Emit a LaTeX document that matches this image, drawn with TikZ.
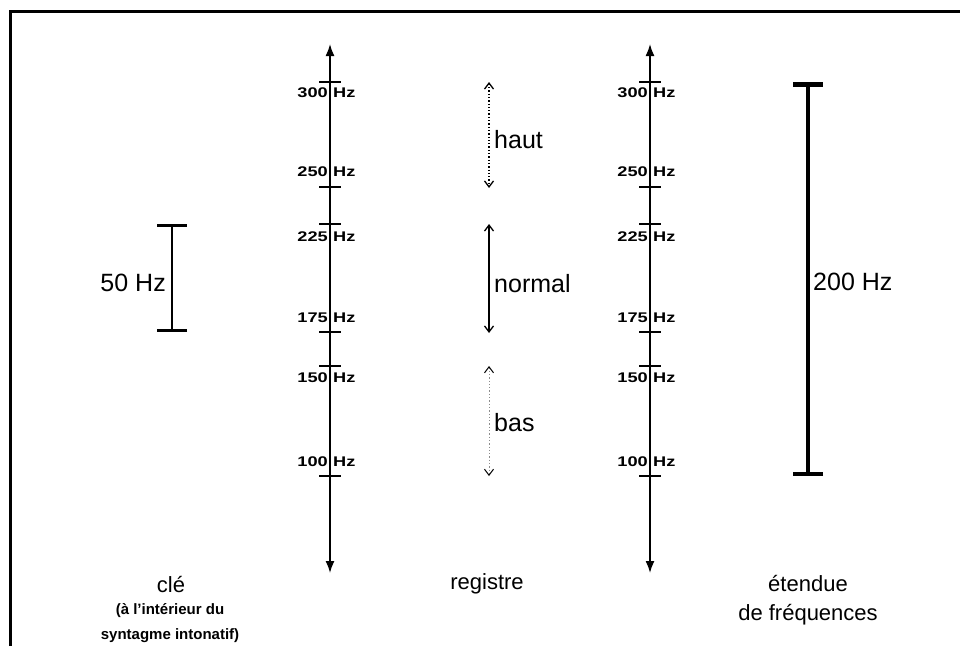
\documentclass[tikz,border=0pt]{standalone}
\usepackage{fontspec}
\setmainfont{Liberation Sans}
\newfontfamily\widefont[FakeStretch=1.3]{Liberation Sans}
\usetikzlibrary{arrows.meta}

\begin{document}
\begin{tikzpicture}[x=1pt,y=-1pt,
	axis/.style={line width=1.6pt,{Latex[length=12pt,width=9pt]}-{Latex[length=12pt,width=9pt]}},
	tick/.style={line width=1.4pt},
	num/.style={font=\widefont\bfseries\fontsize{14}{14}\selectfont,inner sep=1pt},
	reg/.style={line width=1.3pt,{Straight Barb[length=6pt,width=9pt,black]}-{Straight Barb[length=6pt,width=9pt,black]}},
	span/.style={{Bar[width=30pt]}-{Bar[width=30pt]}},
	lab/.style={font=\fontsize{22}{29}\selectfont,inner sep=1pt},
	big/.style={font=\fontsize{25}{29}\selectfont,inner sep=1pt},
	sub/.style={font=\bfseries\fontsize{15}{25}\selectfont,align=center,inner sep=1pt}]
		\useasboundingbox (0,0) rectangle (960,646);
		\draw[line width=3pt] (10,646) -- (10,11) -- (960,11);

		%axes
		\foreach \ax/\xa in {L/330,R/650} {
			\coordinate (\ax top) at (\xa,44);
			\coordinate (\ax bot) at (\xa,573);
			\draw[axis] (\ax bot) -- (\ax top);
			\foreach \yt in {82,187,224,332,366,476}
				\draw[tick] (\xa-11,\yt) -- (\xa+11,\yt);
			\foreach \f/\yl in {300/93,250/172,225/237,175/318,150/378,100/462} {
				\node[num,anchor=east] (\ax\f) at (\xa-1,\yl) {\f};
				\node[num,anchor=west] (\ax\f hz) at (\xa+2,\yl) {Hz};
			}
		}

		%registre
		\coordinate (h1) at (489,82);
		\coordinate (h2) at (489,188);
		\coordinate (n1) at (489,224);
		\coordinate (n2) at (489,333);
		\coordinate (b1) at (489,366);
		\coordinate (b2) at (489,476);
		\draw[reg,dotted] (h1) -- (h2);
		\draw[reg] (n1) -- (n2);
		\draw[reg,dotted,draw=black!45,line width=1pt] (b1) -- (b2);
		\node[big,anchor=west] (haut) at (493,140) {haut};
		\node[big,anchor=west] (normal) at (493,284) {normal};
		\node[big,anchor=west] (bas) at (493,423) {bas};

		%cle
		\coordinate (c1) at (172,224);
		\coordinate (c2) at (172,332);
		\draw[span,line width=2.8pt] (c1) -- (c2);
		\node[big,anchor=east] (cinquante) at (167,283) {50 Hz};

		%etendue
		\coordinate (e1) at (808,82);
		\coordinate (e2) at (808,476);
		\draw[span,line width=4.5pt] (e1) -- (e2);
		\node[big,anchor=west] (deuxcents) at (812,282) {200 Hz};

		%titres
		\node[lab] (cle) at (171,584) {clé};
		\node[sub] (clesub) at (170,623) {(à l'intérieur du\\syntagme intonatif)};
		\node[lab] (registre) at (487,584) {registre};
		\node[lab,align=center] (etendue) at (808,600) {étendue\\de fréquences};
	\end{tikzpicture}
\end{document}
